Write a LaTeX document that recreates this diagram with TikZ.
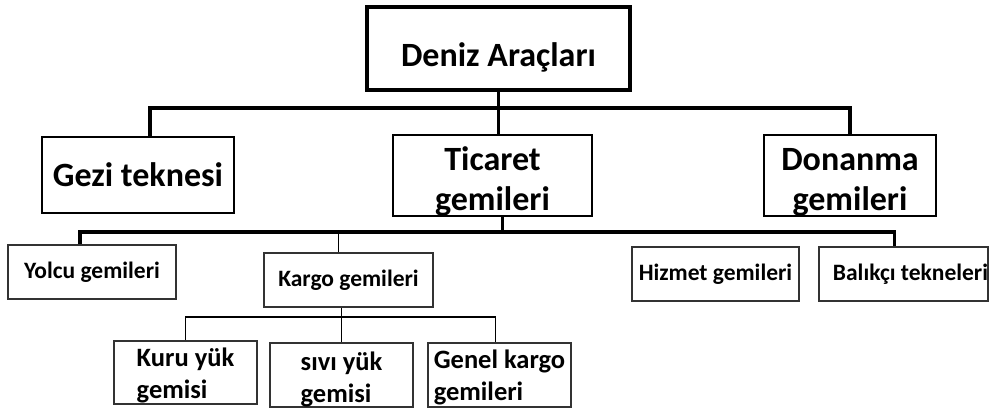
\documentclass[tikz,border=0pt]{standalone}
\usepackage{fontspec}
\setmainfont{Carlito}
\usetikzlibrary{calc}

\begin{document}
\begin{tikzpicture}[x=1pt, y=-1pt,
    topbox/.style={draw, line width=3.4pt, inner sep=0pt, minimum width=263pt, minimum height=83pt, font=\fontsize{34}{40}\selectfont\bfseries},
    mainbox/.style={draw, line width=2.6pt, inner sep=0pt, align=center, font=\fontsize{34}{40}\selectfont\bfseries},
    subbox/.style={draw=black!80, line width=1.6pt, inner sep=0pt, font=\fontsize{23.5}{28}\selectfont\bfseries},
    leafbox/.style={draw=black!80, line width=1.6pt, inner sep=0pt, align=left, font=\fontsize{26.5}{32}\selectfont\bfseries},
    bus/.style={line width=3.5pt},
    twig/.style={line width=1.8pt}]
    %%%%% START %%%%%
    \useasboundingbox (0, 0) rectangle (992, 411);

    \node[topbox] (root) at (498.5, 48.5) {\rule{0pt}{42pt}Deniz Araçları};

    \node[mainbox, minimum width=192pt, minimum height=76pt] (gezi) at (138, 175) {Gezi teknesi};
    \node[mainbox, minimum width=199pt, minimum height=75pt] (ticaret) at (492.5, 175.5) {\rule{0pt}{35pt}Ticaret\\gemileri};
    \node[mainbox, minimum width=172pt, minimum height=75pt] (donanma) at (850, 175.5) {\rule{0pt}{35pt}Donanma\\gemileri};

    \node[subbox, minimum width=168pt, minimum height=54pt] (yolcu) at (92, 272) {Yolcu gemileri};
    \node[subbox, minimum width=169pt, minimum height=54pt] (kargo) at (348.5, 280) {Kargo gemileri};
    \node[subbox, minimum width=167pt, minimum height=54pt] (hizmet) at (715.5, 274) {Hizmet gemileri};
    \node[subbox, minimum width=169pt, minimum height=54pt] (balikci) at (903.5, 274) {\hspace*{14pt}Balıkçı tekneleri};

    \node[leafbox, minimum width=143pt, minimum height=63pt] (kuru) at (185.5, 372.5) {\rule{0pt}{25pt}Kuru yük\\gemisi};
    \node[leafbox, minimum width=143pt, minimum height=64pt] (sivi) at (341.5, 375) {\rule{0pt}{27pt}sıvı yük\\gemisi};
    \node[leafbox, minimum width=143pt, minimum height=64pt] (genel) at (499.5, 375) {\rule{0pt}{23pt}Genel kargo\\gemileri};

    \coordinate (busA) at (0, 108);
    \coordinate (busB) at (0, 232);
    \coordinate (busC) at (0, 317);

    % first level
    \draw[bus] (root.south) -- (root.south |- ticaret.north);
    \draw[bus] ([xshift=12pt]gezi.north) -- ([xshift=12pt]gezi.north |- busA) -- (donanma.north |- busA) -- (donanma.north);

    % second level
    \draw[bus] ([xshift=10pt]ticaret.south) -- ([xshift=10pt]ticaret.south |- busB);
    \draw[bus] ([xshift=-12pt]yolcu.north) -- ([xshift=-12pt]yolcu.north |- busB) -- ([xshift=-9pt]balikci.north |- busB) -- ([xshift=-9pt]balikci.north);
    \draw[twig] ([xshift=-10pt]kargo.north) -- ([xshift=-10pt]kargo.north |- busB);

    % third level
    \draw[twig] (sivi.north |- kargo.south) -- (sivi.north);
    \draw[twig] (kuru.north) -- (kuru.north |- busC) -- ([xshift=-4pt]genel.north |- busC) -- ([xshift=-4pt]genel.north);

    %%%%% END %%%%%
\end{tikzpicture}
\end{document}
